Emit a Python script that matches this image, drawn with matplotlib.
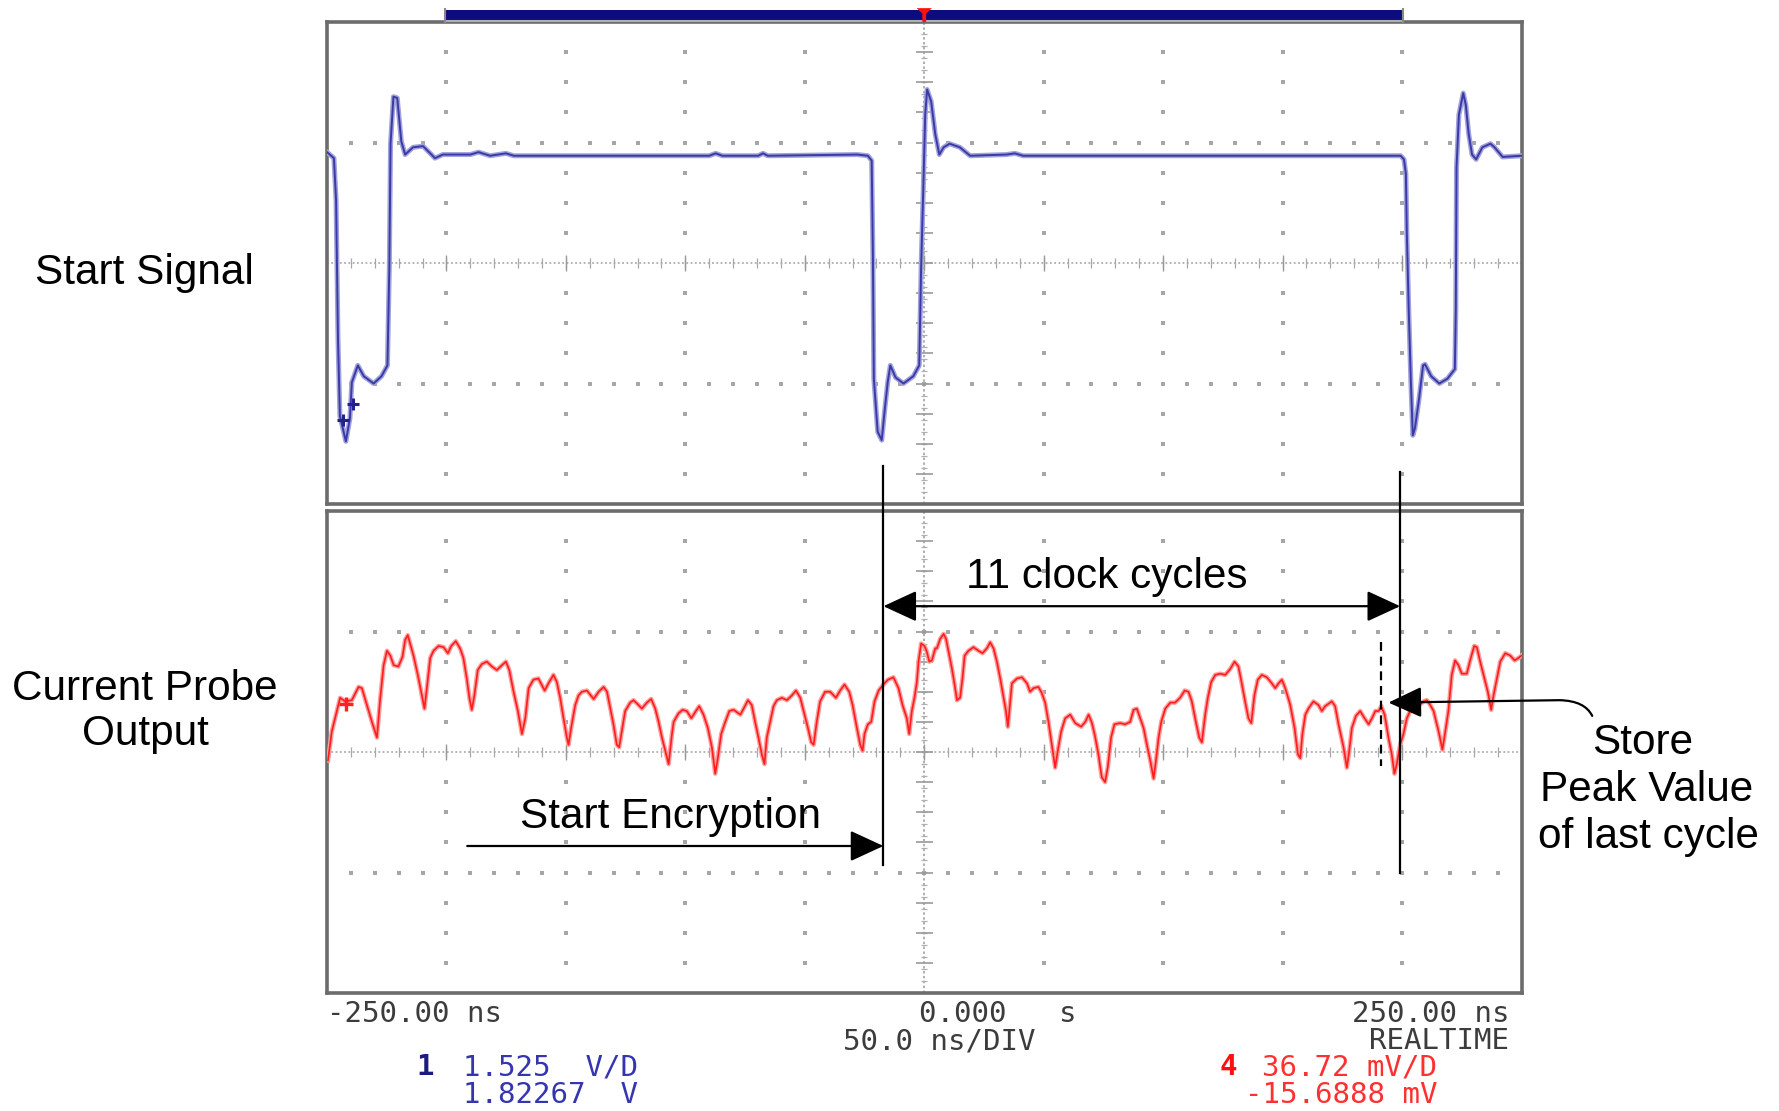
import numpy as np
import matplotlib
matplotlib.use("Agg")
import matplotlib.pyplot as plt
from matplotlib.patches import Rectangle, Polygon, FancyArrowPatch
from matplotlib.path import Path

# ---------------- data (time in ns, amplitude in screen divisions) ----------------
start_t = [-250.0, -247.1, -246.2, -245.4, -244.6, -242.1, -240.4, -239.6, -237.1, -234.6,
           -230.5, -227.2, -224.7, -223.9, -223.4, -222.2, -220.6, -218.9, -217.3, -214.0,
           -209.8, -204.8, -201.5, -190.0, -186.6, -181.7, -175.1, -171.8, -90.0, -87.3,
           -84.5, -69.5, -67.5, -65.5, -28.0, -23.6, -22.0, -21.5, -21.1, -19.5,
           -17.8, -16.5, -15.3, -14.2, -12.0, -8.7, -4.6, -2.1, -1.3, -0.45,
           0.4, 1.2, 2.9, 4.6, 6.3, 8.1, 10.6, 14.9, 19.2, 34.5,
           37.9, 41.4, 199.4, 200.8, 201.6, 202.0, 202.8, 203.7, 204.5, 205.4,
           207.1, 208.8, 209.6, 212.2, 215.6, 219.0, 222.1, 222.5, 222.8, 223.8,
           225.6, 226.7, 227.9, 229.3, 231.0, 233.6, 237.0, 238.7, 242.1, 250.0]
start_v = [0.92, 0.87, 0.52, -0.63, -1.27, -1.48, -1.29, -0.99, -0.85, -0.94,
           -1.00, -0.94, -0.85, -0.03, 0.99, 1.38, 1.37, 1.01, 0.90, 0.96,
           0.97, 0.87, 0.90, 0.90, 0.92, 0.89, 0.91, 0.89, 0.89, 0.91,
           0.89, 0.89, 0.91, 0.89, 0.90, 0.89, 0.85, 0.08, -0.96, -1.40,
           -1.47, -1.21, -0.99, -0.85, -0.95, -1.00, -0.94, -0.85, -0.03, 0.58,
           1.23, 1.44, 1.34, 1.07, 0.90, 0.96, 0.99, 0.96, 0.89, 0.90,
           0.91, 0.89, 0.89, 0.86, 0.74, 0.25, -0.39, -0.99, -1.43, -1.37,
           -1.13, -0.85, -0.84, -0.94, -1.00, -0.96, -0.88, -0.39, 0.79, 1.23,
           1.41, 1.31, 1.07, 0.90, 0.86, 0.96, 0.99, 0.96, 0.88, 0.89]

probe_t = [-249.6, -248.0, -245.9, -244.5, -242.4, -239.6, -236.8, -235.4, -233.3, -231.2,
           -229.1, -227.7, -226.3, -224.9, -223.5, -222.1, -220.1, -218.4, -217.3, -216.2,
           -215.2, -213.8, -212.0, -210.3, -209.2, -208.2, -206.8, -205.4, -203.3, -201.2,
           -199.4, -198.0, -196.1, -194.3, -192.9, -191.5, -190.4, -189.4, -188.3, -186.9,
           -185.2, -183.1, -181.0, -178.9, -176.8, -175.1, -173.7, -171.9, -170.1, -168.4,
           -167.0, -165.6, -163.6, -161.5, -158.9, -157.3, -155.2, -153.8, -152.4, -151.0,
           -149.6, -148.9, -147.8, -146.1, -144.7, -143.3, -141.2, -138.4, -136.3, -134.2,
           -132.8, -131.4, -130.1, -128.7, -127.7, -126.6, -125.2, -123.1, -121.7, -119.6,
           -118.2, -116.1, -114.3, -112.6, -111.2, -109.8, -108.4, -107.0, -105.6, -104.9,
           -102.9, -101.2, -99.4, -97.5, -95.6, -94.2, -92.4, -90.6, -88.9, -87.5,
           -86.4, -85.0, -83.3, -81.6, -79.8, -77.0, -75.6, -73.8, -72.2, -70.8,
           -69.4, -68.0, -66.9, -65.9, -64.5, -63.1, -61.7, -59.6, -57.5, -55.4,
           -53.7, -51.9, -50.5, -48.7, -47.3, -46.3, -45.0, -43.6, -41.5, -39.4,
           -37.0, -35.2, -33.4, -31.4, -30.0, -28.2, -26.8, -25.8, -25.0, -23.6,
           -22.2, -20.8, -19.1, -17.1, -15.2, -12.9, -10.8, -9.1, -7.3, -6.3,
           -5.2, -4.1, -3.1, -2.4, -1.3, 0.1, 1.1, 2.1, 3.2, 4.6,
           5.3, 6.7, 8.1, 9.1, 10.2, 11.6, 12.7, 13.7, 15.0, 16.0,
           16.9, 18.5, 20.6, 22.7, 24.4, 26.2, 27.6, 29.0, 30.4, 31.8,
           33.2, 34.2, 35.0, 35.6, 36.7, 38.8, 40.9, 43.0, 44.3, 45.7,
           47.8, 49.2, 50.6, 52.0, 53.4, 54.8, 55.9, 57.3, 59.0, 61.1,
           63.2, 65.7, 67.4, 68.8, 70.2, 71.5, 72.9, 74.3, 75.7, 76.8,
           78.2, 79.6, 82.0, 84.1, 86.2, 87.6, 89.0, 90.4, 91.8, 93.2,
           94.6, 96.0, 97.0, 98.1, 99.2, 100.9, 103.0, 105.0, 107.1, 109.0,
           110.6, 112.0, 113.7, 115.1, 116.2, 117.6, 118.7, 120.1, 121.8, 123.9,
           126.0, 128.1, 129.9, 131.5, 132.9, 134.3, 135.7, 136.9, 138.2, 139.6,
           141.3, 143.4, 145.5, 146.9, 148.3, 149.7, 151.1, 153.2, 155.0, 156.4,
           157.4, 158.3, 159.5, 160.8, 162.9, 165.0, 166.4, 167.8, 170.6, 172.0,
           173.4, 175.5, 176.9, 177.9, 179.0, 180.7, 182.5, 184.3, 186.0, 187.4,
           188.8, 190.2, 191.3, 192.7, 194.3, 195.7, 196.8, 197.8, 199.2, 200.6,
           202.0, 203.4, 205.2, 207.2, 209.0, 210.4, 211.8, 213.2, 215.3, 216.9,
           218.1, 219.4, 220.8, 222.2, 223.6, 225.0, 227.1, 228.5, 230.2, 231.3,
           232.7, 234.5, 235.9, 237.3, 238.3, 239.7, 241.1, 243.2, 245.3, 247.1,
           248.7, 250.0]
probe_v = [-0.07, 0.17, 0.34, 0.45, 0.42, 0.43, 0.54, 0.53, 0.39, 0.25,
           0.12, 0.45, 0.72, 0.84, 0.80, 0.72, 0.71, 0.79, 0.93, 0.97,
           0.90, 0.80, 0.64, 0.47, 0.36, 0.53, 0.78, 0.84, 0.88, 0.87,
           0.82, 0.88, 0.92, 0.86, 0.78, 0.61, 0.45, 0.35, 0.47, 0.68,
           0.73, 0.75, 0.71, 0.68, 0.72, 0.75, 0.68, 0.50, 0.34, 0.15,
           0.28, 0.53, 0.60, 0.61, 0.51, 0.57, 0.64, 0.58, 0.45, 0.28,
           0.12, 0.06, 0.20, 0.39, 0.47, 0.50, 0.51, 0.44, 0.50, 0.54,
           0.50, 0.36, 0.23, 0.06, 0.04, 0.17, 0.34, 0.41, 0.43, 0.39,
           0.36, 0.41, 0.44, 0.36, 0.25, 0.12, 0.01, -0.10, 0.15, 0.25,
           0.32, 0.35, 0.34, 0.28, 0.34, 0.38, 0.31, 0.20, 0.04, -0.18,
           -0.05, 0.15, 0.25, 0.34, 0.35, 0.31, 0.36, 0.43, 0.39, 0.25,
           0.12, -0.02, -0.10, 0.12, 0.25, 0.38, 0.43, 0.45, 0.43, 0.47,
           0.51, 0.45, 0.34, 0.20, 0.08, 0.06, 0.25, 0.42, 0.50, 0.50,
           0.45, 0.51, 0.56, 0.50, 0.39, 0.20, 0.06, 0.01, 0.15, 0.23,
           0.25, 0.42, 0.51, 0.56, 0.60, 0.62, 0.53, 0.39, 0.28, 0.15,
           0.34, 0.45, 0.58, 0.75, 0.90, 0.88, 0.83, 0.75, 0.76, 0.86,
           0.86, 0.94, 0.98, 0.94, 0.83, 0.69, 0.56, 0.43, 0.45, 0.61,
           0.80, 0.84, 0.87, 0.84, 0.82, 0.86, 0.91, 0.86, 0.75, 0.61,
           0.45, 0.34, 0.21, 0.34, 0.57, 0.61, 0.62, 0.57, 0.50, 0.53,
           0.54, 0.49, 0.41, 0.25, 0.06, -0.13, 0.01, 0.17, 0.28, 0.31,
           0.24, 0.21, 0.25, 0.31, 0.24, 0.13, -0.02, -0.21, -0.25, -0.13,
           0.12, 0.23, 0.24, 0.23, 0.25, 0.35, 0.36, 0.28, 0.20, 0.06,
           -0.07, -0.22, -0.07, 0.12, 0.25, 0.36, 0.41, 0.41, 0.45, 0.51,
           0.50, 0.42, 0.25, 0.12, 0.08, 0.31, 0.45, 0.58, 0.64, 0.65,
           0.64, 0.69, 0.75, 0.71, 0.57, 0.42, 0.28, 0.24, 0.47, 0.60,
           0.64, 0.62, 0.57, 0.53, 0.57, 0.60, 0.53, 0.39, 0.20, -0.02,
           -0.05, 0.15, 0.31, 0.36, 0.42, 0.39, 0.34, 0.38, 0.42, 0.38,
           0.23, 0.04, -0.13, 0.01, 0.20, 0.30, 0.34, 0.28, 0.23, 0.28,
           0.34, 0.34, 0.38, 0.31, 0.12, -0.02, -0.18, -0.10, 0.06, 0.15,
           0.28, 0.34, 0.38, 0.39, 0.42, 0.43, 0.39, 0.34, 0.17, 0.02,
           0.17, 0.34, 0.64, 0.76, 0.72, 0.65, 0.65, 0.76, 0.88, 0.87,
           0.75, 0.61, 0.50, 0.35, 0.47, 0.61, 0.75, 0.82, 0.80, 0.76,
           0.78, 0.80]

# annotation anchors (ns)
encrypt_start_t = -17.1
last_cycle_end_t = 199.2
store_sample_t = 191.3
store_arrow_tip_t = 194.3

# scope readouts
x_labels = ["-250.00 ns", "0.000   s", "250.00 ns"]
timebase = "50.0 ns/DIV"
mode = "REALTIME"
ch1_text = ["1.525  V/D", "1.82267  V"]
ch4_text = ["36.72 mV/D", "-15.6888 mV"]

# ---------------- figure ----------------
W, H = 1779, 1111
fig = plt.figure(figsize=(W / 100, H / 100), dpi=100)
fig.patch.set_facecolor("white")


def fx(x):
    return x / W


def fy(y):
    return 1 - y / H


L, R = 327, 1521.5
ax_top = fig.add_axes([fx(L), fy(504), (R - L) / W, 482 / H])
ax_bot = fig.add_axes([fx(L), fy(993), (R - L) / W, 482 / H])

GRID = "#a6a6a6"


def scope_grid(ax):
    ax.set_xlim(-250, 250)
    ax.set_ylim(-2, 2)
    ax.set_xticks([])
    ax.set_yticks([])
    for s in ax.spines.values():
        s.set_color("#6c6c6c")
        s.set_linewidth(2.6)
    cols = [-200, -150, -100, -50, 50, 100, 150, 200]
    rows = [r for r in np.arange(-1.75, 1.80, 0.25) if abs(r) > 0.01 and abs(abs(r) - 1) > 0.01]
    cx, cy = np.meshgrid(cols, rows)
    ax.plot(cx.ravel(), cy.ravel(), ls="none", marker="s", ms=2.2, color=GRID, mew=0, zorder=1)
    dense = np.arange(-240, 241, 10)
    for yy in (-1, 1):
        ax.plot(dense, np.full_like(dense, yy, dtype=float), ls="none", marker="s", ms=2.4,
                color=GRID, mew=0, zorder=1)
    # horizontal center axis
    ax.plot([-250, 250], [0, 0], ls=(0, (1.2, 1.6)), color="#a0a0a0", lw=1.1, zorder=1)
    ax.vlines(dense, -0.045, 0.045, color="#a8a8a8", lw=0.9, zorder=1)
    ax.vlines(np.arange(-200, 201, 50), -0.07, 0.07, color="#999999", lw=1.0, zorder=1)
    # vertical center axis
    ax.plot([0, 0], [-2, 2], ls=(0, (1.6, 1.6)), color="#9a9a9a", lw=1.1, zorder=1)
    ax.hlines(np.arange(-1.9, 1.95, 0.1), -1.2, 1.2, color="#b0b0b0", lw=0.9, zorder=1)
    ax.hlines(np.arange(-1.75, 1.8, 0.25), -3.5, 3.5, color="#9a9a9a", lw=1.2, zorder=1)


scope_grid(ax_top)
scope_grid(ax_bot)

# traces
ax_top.plot(start_t, start_v, color="#a2a2dc", lw=3.6, solid_joinstyle="round", zorder=3)
ax_top.plot(start_t, start_v, color="#3a3aa6", lw=1.4, solid_joinstyle="round", zorder=4)
ax_top.plot([-243.5, -239.0], [-1.30, -1.17], ls="none", marker="+", ms=9, mew=2.2,
            color="#22228a", zorder=5)

ax_bot.plot(probe_t, probe_v, color="#ff9c9c", lw=3.2, solid_joinstyle="round", zorder=3)
ax_bot.plot(probe_t, probe_v, color="#ff1c1c", lw=1.2, solid_joinstyle="round", zorder=4)
ax_bot.plot([-242.0], [0.40], ls="none", marker="+", ms=10, mew=2.4, color="#ff2020", zorder=5)

# top position bar with trigger marker
ax_top.add_patch(Rectangle((-200, 2.012), 400, 0.09, facecolor="#0c0c80", edgecolor="none",
                           clip_on=False, zorder=6))
ax_top.plot([-200, 200], [2.012, 2.012], color="#b0b0b0", lw=1.5, clip_on=False, zorder=6)
for tt in (-200.5, 200.5):
    ax_top.plot([tt, tt], [2.0, 2.11], color="#8a8a8a", lw=1.5, clip_on=False, zorder=6)
ax_top.add_patch(Polygon([[-3.2, 2.115], [3.2, 2.115], [0.8, 2.07], [0.8, 2.0], [-0.8, 2.0],
                          [-0.8, 2.07]], closed=True, facecolor="#ff1010", edgecolor="none",
                         clip_on=False, zorder=7))

# annotations (bottom-axes data coordinates, allowed to cross into the top panel)
K = dict(color="black", clip_on=False, zorder=8)
ax_bot.plot([encrypt_start_t, encrypt_start_t], [2.37, -0.94], lw=1.6, **K)
ax_bot.plot([last_cycle_end_t, last_cycle_end_t], [2.32, -1.0], lw=1.6, **K)
ax_bot.plot([store_sample_t, store_sample_t], [0.91, -0.12], lw=1.6,
            ls=(0, (4.0, 2.6)), **K)

HEAD = "head_length=1.3,head_width=0.6"
arrow_kw = dict(arrowstyle="-|>," + HEAD, mutation_scale=16,
                color="black", lw=1.6, clip_on=False, zorder=8, shrinkA=0, shrinkB=0)
ax_bot.add_patch(FancyArrowPatch((encrypt_start_t, 1.21), (last_cycle_end_t, 1.21),
                                 arrowstyle="<|-|>," + HEAD,
                                 mutation_scale=16, color="black", lw=1.6, clip_on=False,
                                 zorder=8, shrinkA=0, shrinkB=0))
ax_bot.add_patch(FancyArrowPatch((-191.3, -0.78), (encrypt_start_t, -0.78), **arrow_kw))
store_path = Path([(279.6, 0.30), (276.5, 0.425), (266.0, 0.43), (store_arrow_tip_t, 0.41)],
                  [Path.MOVETO, Path.CURVE3, Path.CURVE3, Path.LINETO])
ax_bot.add_patch(FancyArrowPatch(path=store_path, **arrow_kw))

# annotation texts
AF = dict(family="Liberation Sans", fontsize=30.4, color="black")
fig.text(fx(144), fy(284), "Start Signal", ha="center", va="baseline", **AF)
fig.text(fx(145), fy(700), "Current Probe", ha="center", va="baseline", **AF)
fig.text(fx(145), fy(745), "Output", ha="center", va="baseline", **AF)
fig.text(fx(1107), fy(588), "11 clock cycles", ha="center", va="baseline", **AF)
fig.text(fx(671), fy(828), "Start Encryption", ha="center", va="baseline", **AF)
fig.text(fx(1643), fy(754), "Store", ha="center", va="baseline", **AF)
fig.text(fx(1647), fy(801), "Peak Value", ha="center", va="baseline", **AF)
fig.text(fx(1648), fy(848), "of last cycle", ha="center", va="baseline", **AF)

# scope readout texts
SF = dict(family="DejaVu Sans Mono", fontsize=21, va="baseline")
GRAY = "#3c3c3c"
fig.text(fx(327), fy(1022), x_labels[0], ha="left", color=GRAY, **SF)
fig.text(fx(919), fy(1022), x_labels[1], ha="left", color=GRAY, **SF)
fig.text(fx(1509), fy(1022), x_labels[2], ha="right", color=GRAY, **SF)
fig.text(fx(843), fy(1049), timebase, ha="left", color=GRAY, **SF)
fig.text(fx(1509), fy(1049), mode, ha="right", color=GRAY, **SF)
fig.text(fx(416), fy(1075), "1", ha="left", color="#1c1c80", fontweight="bold", **SF)
fig.text(fx(463), fy(1075), ch1_text[0], ha="left", color="#3535b0", **SF)
fig.text(fx(463), fy(1103), ch1_text[1], ha="left", color="#3535b0", **SF)
fig.text(fx(1220), fy(1075), "4", ha="left", color="#ff1010", fontweight="bold", **SF)
fig.text(fx(1262), fy(1075), ch4_text[0], ha="left", color="#ff3030", **SF)
fig.text(fx(1245), fy(1103), ch4_text[1], ha="left", color="#ff3030", **SF)

fig.savefig("out.png", dpi=100, facecolor="white")
